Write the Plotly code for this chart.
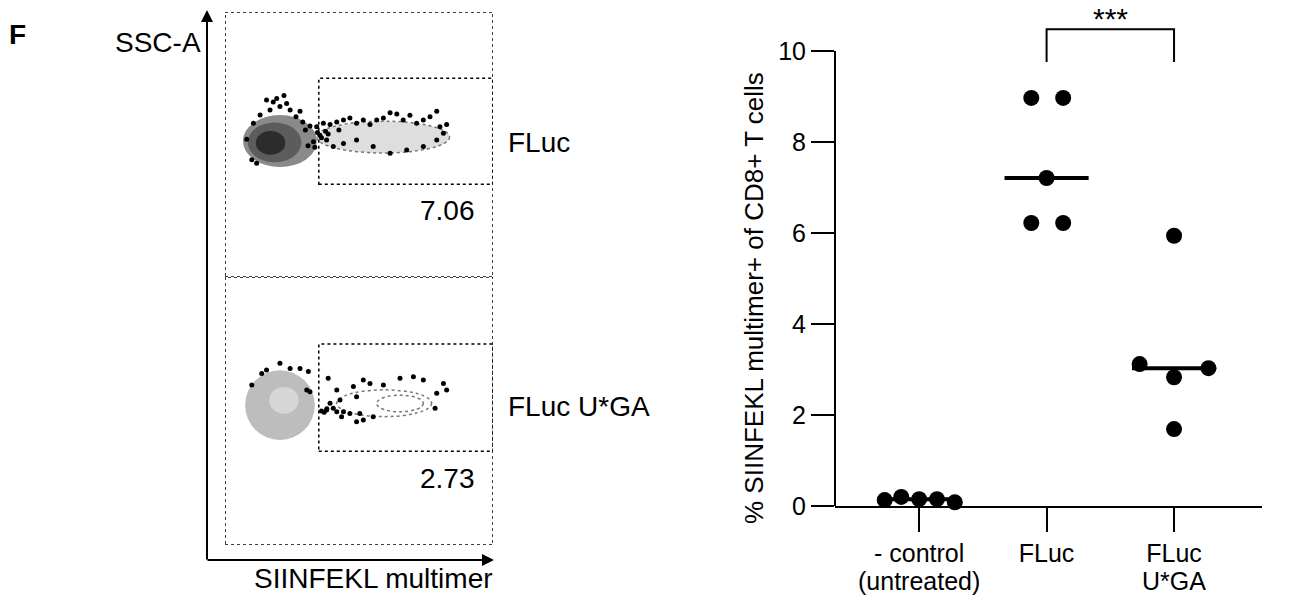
import numpy as np
import plotly.graph_objects as go

W, H = 1307, 602
FONT = "Liberation Sans, Arial, sans-serif"

# ---------------- data: right panel ----------------
groups_line1 = ["- control", "FLuc", "FLuc"]
groups_line2 = ["(untreated)", "", "U*GA"]
control = [0.13, 0.20, 0.15, 0.15, 0.08]
fluc = [8.97, 8.97, 7.21, 6.22, 6.22]
fluc_uga = [5.94, 3.12, 2.83, 3.03, 1.69]
series = [control, fluc, fluc_uga]
# horizontal spread of dots within each column (category units)
spread = [[-0.27, -0.14, 0.0, 0.14, 0.28],
          [-0.12, 0.13, 0.0, -0.12, 0.13],
          [0.0, -0.27, 0.0, 0.27, 0.0]]
y_ticks = [0, 2, 4, 6, 8, 10]
sig_label = "***"

# ---------------- data: left panel (flow plots) ----------------
panel_labels = ["FLuc", "FLuc U*GA"]
gate_pct = ["7.06", "2.73"]
gate_x = [35, 100]
gate_y = [35, 75]
# density populations: centre x, centre y, radius x, radius y
top_pops = dict(cx=[20.5, 18.5, 17.0, 59.0], cy=[51.3, 50.8, 50.6, 52.8],
                rx=[13.8, 10.0, 5.5, 24.8], ry=[9.8, 7.5, 4.5, 6.0])
top_fill = ["#8a8a8a", "#5c5c5c", "#2c2c2c", "#dedede"]
bot_pops = dict(cx=[20.5, 22.0, 59.4, 65.3], cy=[52.2, 54.0, 52.9, 52.8],
                rx=[13.0, 5.5, 17.7, 8.7], ry=[13.0, 5.0, 5.0, 3.1])
bot_fill = ["#bdbdbd", "#d6d6d6", "rgba(0,0,0,0)", "rgba(0,0,0,0)"]
# sparse events (outliers)
top_ev_x = [15.5, 19.3, 23.0, 13.1, 16.8, 20.5, 24.3, 10.6, 8.1, 10.0, 11.8, 26.5, 29.0, 31.7,
            34.2, 36.7, 39.2, 41.7, 44.2, 46.6, 49.1, 51.6, 54.1, 56.6, 59.1, 61.6, 64.1, 66.5,
            69.0, 71.5, 74.0, 76.5, 79.0, 80.2, 81.5, 82.7,
            79.0, 74.0, 67.8, 61.6, 55.3, 49.1, 44.2, 40.4, 37.9, 35.4, 33.0, 31.0,
            34.5, 36.0, 37.5, 33.5, 38.5, 42.5, 30.0, 28.0, 22.0, 18.0]
top_ev_y = [66.8, 67.4, 65.5, 61.1, 63.0, 64.3, 63.0, 58.0, 52.0, 44.2, 42.9, 60.5, 58.5, 57.0,
            56.7, 58.0, 57.5, 58.5, 59.2, 60.0, 58.0, 59.2, 57.5, 59.2, 60.0, 62.0, 61.5, 59.2,
            61.0, 58.0, 59.2, 60.5, 62.5, 56.7, 54.2, 57.5,
            51.7, 49.2, 47.9, 46.7, 49.2, 51.7, 50.4, 49.2, 51.7, 53.5, 51.0, 49.5,
            54.5, 52.5, 55.0, 49.0, 54.0, 55.5, 55.5, 62.5, 68.5, 66.0]
bot_ev_x = [15.5, 20.5, 24.3, 28.0, 31.1, 10.0, 13.7, 30.5, 31.7, 38.5, 41.7, 42.9, 39.2, 37.9,
            40.4, 41.7, 44.2, 43.5, 47.9, 51.6, 54.1, 59.1, 65.3, 70.3, 74.0, 81.5, 82.7, 79.0,
            78.4, 49.1, 46.6, 50.3, 51.6, 55.3, 49.1, 36.0, 37.0, 38.0]
bot_ev_y = [65.3, 67.8, 65.9, 65.9, 64.7, 59.7, 64.0, 57.8, 57.2, 62.2, 57.8, 54.1, 52.9, 50.4,
            51.0, 49.7, 49.7, 47.9, 59.1, 61.6, 60.3, 59.7, 62.2, 62.8, 61.6, 60.3, 57.8, 56.6,
            51.0, 55.3, 49.1, 49.1, 46.6, 47.9, 46.0, 50.0, 49.5, 50.8]


def px(x):
    return x / W


def py(y):
    return 1 - y / H


fig = go.Figure()

# ---------------- right panel ----------------
for i, vals in enumerate(series):
    xs = [i + d for d in spread[i]]
    med = float(np.median(vals))
    fig.add_trace(go.Scatter(x=[i - 0.33, i + 0.33], y=[med, med], mode="lines",
                             line=dict(color="black", width=4), xaxis="x", yaxis="y",
                             hoverinfo="skip", cliponaxis=False))
    fig.add_trace(go.Scatter(x=xs, y=vals, mode="markers",
                             marker=dict(color="black", size=16), xaxis="x", yaxis="y",
                             cliponaxis=False))

# significance bracket between FLuc and FLuc U*GA
fig.add_trace(go.Scatter(x=[1, 1, 2, 2], y=[9.76, 10.48, 10.48, 9.76], mode="lines",
                         line=dict(color="black", width=2), xaxis="x", yaxis="y",
                         hoverinfo="skip"))

# ---------------- left panel: flow events ----------------
fig.add_trace(go.Scatter(x=top_ev_x, y=top_ev_y, mode="markers",
                         marker=dict(color="black", size=5), xaxis="x2", yaxis="y2"))
fig.add_trace(go.Scatter(x=bot_ev_x, y=bot_ev_y, mode="markers",
                         marker=dict(color="black", size=5), xaxis="x3", yaxis="y3"))

shapes = []
# y axis line of the dot plot (0..10)
shapes.append(dict(type="line", xref="x domain", yref="y", x0=0, x1=0, y0=0, y1=10,
                   line=dict(color="black", width=2)))

for pops, fills, xr, yr in [(top_pops, top_fill, "x2", "y2"), (bot_pops, bot_fill, "x3", "y3")]:
    shapes.append(dict(type="rect", xref=xr, yref=yr, x0=0, x1=100, y0=0, y1=100,
                       line=dict(color="black", width=1.5, dash="dot")))
    shapes.append(dict(type="rect", xref=xr, yref=yr, x0=gate_x[0], x1=gate_x[1],
                       y0=gate_y[0], y1=gate_y[1],
                       line=dict(color="black", width=1.5, dash="dot")))
    for k in range(len(pops["cx"])):
        outline = fills[k].startswith("rgba") or k == 3
        shapes.append(dict(type="circle", xref=xr, yref=yr, layer="below",
                           x0=pops["cx"][k] - pops["rx"][k], x1=pops["cx"][k] + pops["rx"][k],
                           y0=pops["cy"][k] - pops["ry"][k], y1=pops["cy"][k] + pops["ry"][k],
                           fillcolor=fills[k],
                           line=dict(color="#777777" if outline else "rgba(0,0,0,0)",
                                     width=1.5, dash="dot")))

annotations = []
# axis arrows of the flow plots
annotations.append(dict(x=px(207), y=py(10), xref="paper", yref="paper",
                        axref="pixel", ayref="pixel", ax=0, ay=551, text="", showarrow=True,
                        arrowhead=2, arrowsize=1.2, arrowwidth=2, arrowcolor="black"))
annotations.append(dict(x=px(494), y=py(560), xref="paper", yref="paper",
                        axref="pixel", ayref="pixel", ax=-288, ay=0, text="", showarrow=True,
                        arrowhead=2, arrowsize=1.2, arrowwidth=2, arrowcolor="black"))

f28 = dict(family=FONT, size=28, color="black")
f25 = dict(family=FONT, size=25, color="black")
lab = dict(showarrow=False, xref="paper", yref="paper")
annotations.append(dict(text="<b>F</b>", x=px(7), y=py(34), xanchor="left", yanchor="middle", font=f28, **lab))
annotations.append(dict(text="SSC-A", x=px(203), y=py(43), xanchor="right", yanchor="middle", font=f28, **lab))
annotations.append(dict(text="SIINFEKL multimer", x=px(373), y=py(578), xanchor="center",
                        yanchor="middle", font=f28, **lab))
annotations.append(dict(text=panel_labels[0], x=px(506), y=py(143), xanchor="left", yanchor="middle", font=f28, **lab))
annotations.append(dict(text=panel_labels[1], x=px(506), y=py(406), xanchor="left", yanchor="middle", font=f28, **lab))
annotations.append(dict(text=gate_pct[0], x=94, y=25, xref="x2", yref="y2", xanchor="right",
                        yanchor="middle", showarrow=False, font=f28))
annotations.append(dict(text=gate_pct[1], x=94, y=25, xref="x3", yref="y3", xanchor="right",
                        yanchor="middle", showarrow=False, font=f28))

# right panel texts
annotations.append(dict(text="% SIINFEKL multimer+ of CD8+ T cells", x=px(754), y=py(298),
                        xanchor="center", yanchor="middle", textangle=-90,
                        font=dict(family=FONT, size=26, color="black"), **lab))
annotations.append(dict(text=sig_label, x=1.5, xref="x", y=py(0), yref="paper", xanchor="center",
                        yanchor="top", showarrow=False, font=dict(family=FONT, size=30, color="black")))
# second line of the category labels
for i, t in enumerate(groups_line2):
    if t:
        annotations.append(dict(text=t, x=i, xref="x", y=py(581), yref="paper", xanchor="center",
                                yanchor="middle", showarrow=False, font=f25))

fig.update_layout(
    width=W, height=H, margin=dict(l=0, r=0, t=0, b=0),
    paper_bgcolor="white", plot_bgcolor="white", showlegend=False,
    shapes=shapes, annotations=annotations,
    xaxis=dict(domain=[px(835), px(1262)], range=[-0.66, 2.69], anchor="y", automargin=False,
               tickvals=[0, 1, 2], ticktext=groups_line1, ticks="outside", ticklen=24, tickwidth=2,
               tickcolor="black", showline=True, linewidth=2, linecolor="black",
               showgrid=False, zeroline=False, tickfont=f25),
    yaxis=dict(domain=[py(506), py(1)], range=[0, 11.1], anchor="x", automargin=False,
               tickvals=y_ticks, ticks="outside", ticklen=23, tickwidth=2, tickcolor="black",
               showline=False, showgrid=False, zeroline=False, tickfont=f25),
    xaxis2=dict(domain=[px(225), px(493)], range=[0, 100], anchor="y2", visible=False),
    yaxis2=dict(domain=[py(277), py(12)], range=[0, 100], anchor="x2", visible=False),
    xaxis3=dict(domain=[px(225), px(493)], range=[0, 100], anchor="y3", visible=False),
    yaxis3=dict(domain=[py(545), py(277)], range=[0, 100], anchor="x3", visible=False),
)

fig.write_html("out.html")
